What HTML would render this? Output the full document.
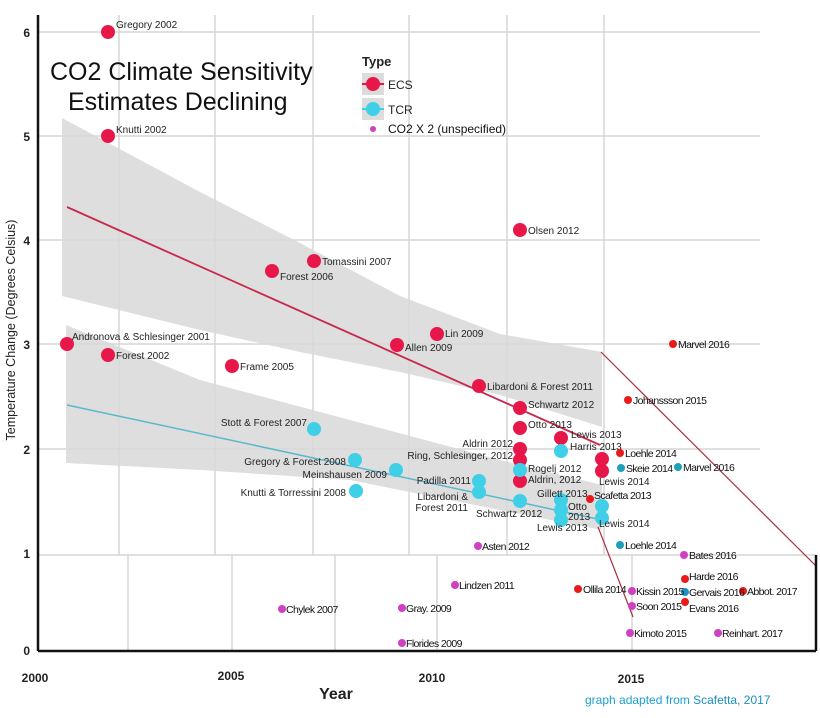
<!DOCTYPE html>
<html><head><meta charset="utf-8"><style>
body{margin:0;background:#fff;width:820px;height:718px;overflow:hidden}
svg{display:block;font-family:"Liberation Sans",sans-serif}
.l{font-size:10px;fill:#222}
.n{font-size:10.5px;fill:#111;letter-spacing:-0.6px}
.t{font-size:12px;font-weight:bold;fill:#222}
</style></head><body>
<svg width="820" height="718" viewBox="0 0 820 718">
<g stroke="#d6d6d6" stroke-width="1.5">
<line x1="38" y1="32" x2="760" y2="32"/><line x1="38" y1="136" x2="760" y2="136"/>
<line x1="38" y1="240" x2="760" y2="240"/><line x1="38" y1="344" x2="760" y2="344"/>
<line x1="38" y1="449" x2="760" y2="449"/><line x1="38" y1="555" x2="816" y2="555"/>
<line x1="119" y1="15" x2="119" y2="555"/><line x1="215" y1="15" x2="215" y2="555"/>
<line x1="313" y1="15" x2="313" y2="555"/><line x1="409" y1="15" x2="409" y2="555"/>
<line x1="507" y1="15" x2="507" y2="555"/><line x1="604" y1="15" x2="604" y2="555"/>
<line x1="128" y1="555" x2="128" y2="651"/><line x1="232" y1="555" x2="232" y2="651"/>
<line x1="335" y1="555" x2="335" y2="651"/><line x1="437" y1="555" x2="437" y2="651"/>
<line x1="632" y1="555" x2="632" y2="651"/>
</g>
<path d="M62,118 L200,192 L300,243 L400,296 L500,334 L602,352 L602,427 L500,395 L400,372 L300,352 L200,330 L62,296Z" fill="#d8d8d8" opacity="0.85"/>
<path d="M66,325 L200,380 L350,420 L500,460 L602,485 L602,530 L500,510 L350,480 L200,470 L66,463Z" fill="#d8d8d8" opacity="0.85"/>
<line x1="67" y1="207" x2="600" y2="445" stroke="#c8284a" stroke-width="1.8"/>
<line x1="67" y1="405" x2="602" y2="520" stroke="#5ab8cc" stroke-width="1.5"/>
<line x1="601" y1="352" x2="816" y2="566" stroke="#a83040" stroke-width="1.2"/>
<line x1="598" y1="527" x2="633" y2="617" stroke="#a83040" stroke-width="1.2"/>
<g stroke="#111" stroke-width="2.5" fill="none">
<line x1="38" y1="15" x2="38" y2="651"/><line x1="38" y1="651" x2="816" y2="651"/><line x1="816" y1="555" x2="816" y2="651"/>
</g>
<g class="t" text-anchor="end">
<text x="30" y="37">6</text><text x="30" y="141">5</text><text x="30" y="245">4</text><text x="30" y="349">3</text><text x="30" y="454">2</text><text x="30" y="558">1</text><text x="30" y="655">0</text>
</g>
<g class="t" text-anchor="middle">
<text x="35" y="682">2000</text><text x="231" y="680">2005</text><text x="432" y="682">2010</text><text x="631" y="683">2015</text>
</g>
<text x="336" y="699" style="font-size:16px;font-weight:bold;fill:#222" text-anchor="middle">Year</text>
<text transform="translate(15,330) rotate(-90)" text-anchor="middle" style="font-size:12.5px;fill:#222">Temperature Change (Degrees Celsius)</text>
<text x="585" y="704" style="font-size:12px;fill:#1b9fd0">graph adapted from <tspan style="fill:#1a8fc0">Scafetta, 2017</tspan></text>
<text x="50" y="80" style="font-size:25px;fill:#111">CO2 Climate Sensitivity</text>
<text x="68" y="110" style="font-size:25px;fill:#111">Estimates Declining</text>
<text x="362" y="66" style="font-size:13px;font-weight:bold;fill:#222">Type</text>
<rect x="362" y="73" width="22" height="22" fill="#dcdcdc"/><rect x="362" y="98" width="22" height="22" fill="#dcdcdc"/>
<line x1="362" y1="84" x2="384" y2="84" stroke="#e8174a" stroke-width="2"/><circle cx="373" cy="84" r="7" fill="#e8174a"/>
<line x1="362" y1="109" x2="384" y2="109" stroke="#3fd0e8" stroke-width="2"/><circle cx="373" cy="109" r="7" fill="#3fd0e8"/>
<text x="388" y="89" style="font-size:12px;fill:#222">ECS</text><text x="388" y="114" style="font-size:12px;fill:#222">TCR</text>
<circle cx="373" cy="129" r="3" fill="#d040c0"/><text x="388" y="133" style="font-size:12px;fill:#111">CO2 X 2 (unspecified)</text>
<g fill="#e8174a">
<circle cx="108" cy="32" r="7"/><circle cx="108" cy="136" r="7"/><circle cx="67" cy="344" r="7"/><circle cx="108" cy="355" r="7"/>
<circle cx="232" cy="366" r="7"/><circle cx="272" cy="271" r="7"/><circle cx="314" cy="261" r="7"/><circle cx="397" cy="345" r="7"/>
<circle cx="437" cy="334" r="7"/><circle cx="520" cy="230" r="7"/><circle cx="479" cy="386" r="7"/><circle cx="520" cy="408" r="7"/>
<circle cx="520" cy="428" r="7"/><circle cx="561" cy="438" r="7"/><circle cx="520" cy="449" r="7"/><circle cx="520" cy="460" r="7"/>
<circle cx="520" cy="481" r="7"/><circle cx="602" cy="459" r="7"/><circle cx="602" cy="471" r="7"/>
</g>
<g fill="#3fd0e8">
<circle cx="314" cy="429" r="7"/><circle cx="355" cy="460" r="7"/><circle cx="396" cy="470" r="7"/><circle cx="356" cy="491" r="7"/>
<circle cx="479" cy="481" r="7"/><circle cx="479" cy="492" r="7"/><circle cx="520" cy="470" r="7"/><circle cx="520" cy="501" r="7"/>
<circle cx="561" cy="451" r="7"/><circle cx="561" cy="500" r="7"/><circle cx="561" cy="510" r="7"/><circle cx="561" cy="520" r="7"/>
<circle cx="602" cy="506" r="7"/><circle cx="602" cy="518" r="7"/>
</g>
<g class="l">
<text x="116" y="28">Gregory 2002</text><text x="116" y="133">Knutti 2002</text><text x="72" y="340">Andronova &amp; Schlesinger 2001</text>
<text x="116" y="359">Forest 2002</text><text x="240" y="370">Frame 2005</text><text x="280" y="280">Forest 2006</text>
<text x="322" y="265">Tomassini 2007</text><text x="405" y="351">Allen 2009</text><text x="445" y="337">Lin 2009</text>
<text x="528" y="234">Olsen 2012</text><text x="487" y="390">Libardoni &amp; Forest 2011</text><text x="528" y="408">Schwartz 2012</text>
<text x="528" y="428">Otto 2013</text><text x="571" y="438">Lewis 2013</text><text x="570" y="450">Harris 2013</text>
<text x="513" y="447" text-anchor="end">Aldrin 2012</text><text x="513" y="459" text-anchor="end">Ring, Schlesinger, 2012</text>
<text x="528" y="472">Rogelj 2012</text><text x="528" y="483">Aldrin, 2012</text><text x="599" y="485">Lewis 2014</text>
<text x="307" y="426" text-anchor="end">Stott &amp; Forest 2007</text><text x="346" y="465" text-anchor="end">Gregory &amp; Forest 2008</text>
<text x="387" y="478" text-anchor="end">Meinshausen 2009</text><text x="346" y="496" text-anchor="end">Knutti &amp; Torressini 2008</text>
<text x="471" y="484" text-anchor="end">Padilla 2011</text><text x="468" y="500" text-anchor="end">Libardoni &amp;</text>
<text x="468" y="511" text-anchor="end">Forest 2011</text><text x="476" y="517">Schwartz 2012</text><text x="537" y="497">Gillett 2013</text>
<text x="568" y="510">Otto</text><text x="568" y="520">2013</text><text x="537" y="531">Lewis 2013</text><text x="599" y="527">Lewis 2014</text>
</g>
<g>
<circle cx="673" cy="344" r="4" fill="#e81a1a"/><circle cx="628" cy="400" r="4" fill="#e81a1a"/><circle cx="620" cy="453" r="4" fill="#e81a1a"/>
<circle cx="621" cy="468" r="4" fill="#20a0b8"/><circle cx="678" cy="467" r="4" fill="#20a0b8"/><circle cx="590" cy="499" r="4" fill="#e81a1a"/>
<circle cx="620" cy="545" r="4" fill="#20a0b8"/><circle cx="684" cy="555" r="4" fill="#d040c0"/><circle cx="685" cy="579" r="4" fill="#e81a1a"/>
<circle cx="685" cy="592" r="4" fill="#2090c8"/><circle cx="743" cy="591" r="4" fill="#e81a1a"/><circle cx="685" cy="602" r="4" fill="#e81a1a"/>
<circle cx="578" cy="589" r="4" fill="#e81a1a"/><circle cx="632" cy="591" r="4" fill="#d040c0"/><circle cx="632" cy="606" r="4" fill="#d040c0"/>
<circle cx="630" cy="633" r="4" fill="#d040c0"/><circle cx="718" cy="633" r="4" fill="#d040c0"/><circle cx="478" cy="546" r="4" fill="#d040c0"/>
<circle cx="455" cy="585" r="4" fill="#d040c0"/><circle cx="282" cy="609" r="4" fill="#d040c0"/><circle cx="402" cy="608" r="4" fill="#d040c0"/>
<circle cx="402" cy="643" r="4" fill="#d040c0"/>
</g>
<g class="n">
<text x="678" y="348">Marvel 2016</text><text x="633" y="404">Johanssson 2015</text><text x="625" y="457">Loehle 2014</text>
<text x="626" y="472">Skeie 2014</text><text x="683" y="471">Marvel 2016</text><text x="594" y="499">Scafetta 2013</text>
<text x="625" y="549">Loehle 2014</text><text x="689" y="559">Bates 2016</text><text x="689" y="580">Harde 2016</text>
<text x="689" y="596">Gervais 2016</text><text x="747" y="595">Abbot. 2017</text><text x="689" y="612">Evans 2016</text>
<text x="583" y="593">Ollila 2014</text><text x="636" y="595">Kissin 2015</text><text x="636" y="610">Soon 2015</text>
<text x="634" y="637">Kimoto 2015</text><text x="722" y="637">Reinhart. 2017</text><text x="482" y="550">Asten 2012</text>
<text x="459" y="589">Lindzen 2011</text><text x="286" y="613">Chylek 2007</text><text x="406" y="612">Gray. 2009</text>
<text x="406" y="647">Florides 2009</text>
</g>
</svg>
</body></html>
